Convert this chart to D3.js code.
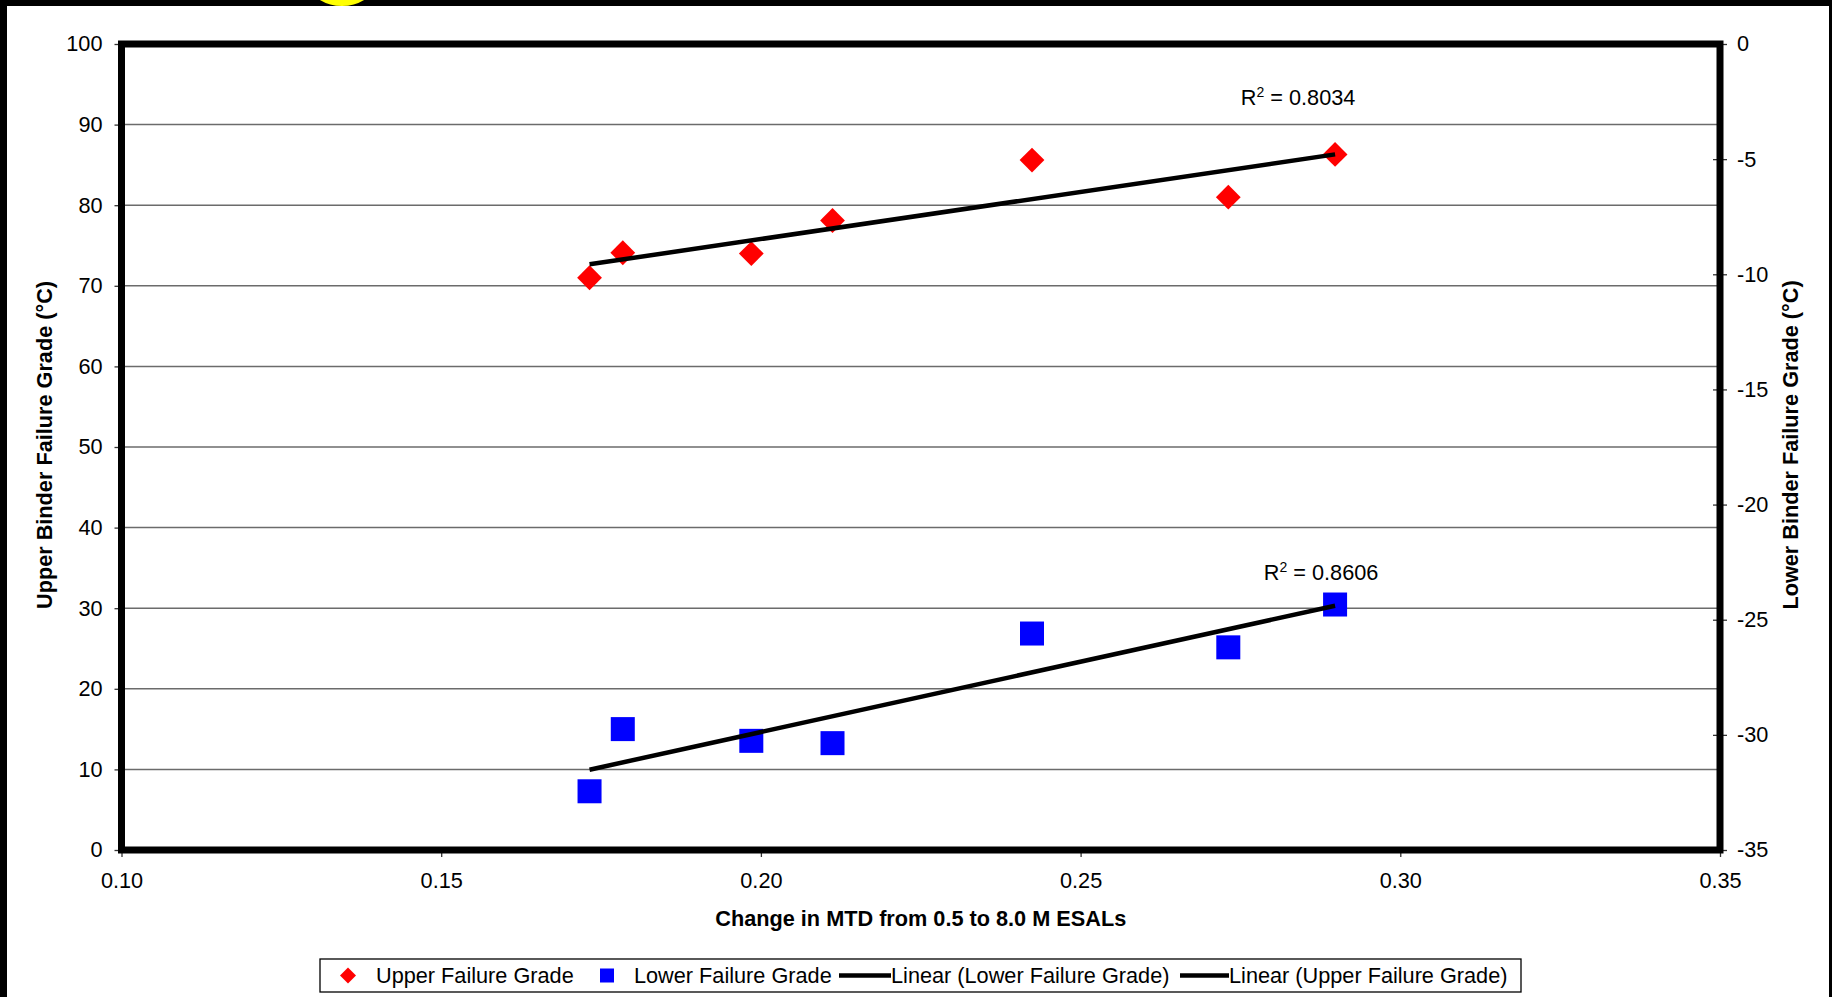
<!DOCTYPE html>
<html>
<head>
<meta charset="utf-8">
<script src="https://cdn.jsdelivr.net/npm/d3@7"></script>
<style>
  html, body { margin: 0; padding: 0; background: #fff; }
  svg { display: block; font-family: "Liberation Sans", Arial, sans-serif; }
</style>
</head>
<body>
<svg id="chart" width="1832" height="997"></svg>
<script>
// Change in mean texture depth (MTD) between 0.5 and 8.0 M ESALs for each section
const mtdChange = [0.1732, 0.1784, 0.1985, 0.2112, 0.2424, 0.2731, 0.2898];
// Upper binder failure grade, °C (left axis)
const upperGrade = [71.0, 74.1, 74.0, 78.1, 85.6, 81.0, 86.3];
// Lower binder failure grade, °C (right axis)
const lowerGrade = [-32.45, -29.75, -30.26, -30.36, -25.6, -26.2, -24.34];

const xTicks = [0.10, 0.15, 0.20, 0.25, 0.30, 0.35];
const leftTicks = [0, 10, 20, 30, 40, 50, 60, 70, 80, 90, 100];
const rightTicks = [-35, -30, -25, -20, -15, -10, -5, 0];

const rSquaredUpper = "0.8034";
const rSquaredLower = "0.8606";

const xTitle = "Change in MTD from 0.5 to 8.0 M ESALs";
const leftTitle = "Upper Binder Failure Grade (°C)";
const rightTitle = "Lower Binder Failure Grade (°C)";
const legendLabels = ["Upper Failure Grade", "Lower Failure Grade",
                      "Linear (Lower Failure Grade)", "Linear (Upper Failure Grade)"];

const svg = d3.select("#chart");
const FONT = 21.7;
const intFmt = d => String(d);   // plain hyphen-minus for negative ticks

// page background and dark frame
svg.append("rect").attr("width", 1832).attr("height", 997).attr("fill", "#fff");
svg.append("rect").attr("x", 0).attr("y", 0).attr("width", 1832).attr("height", 6).attr("fill", "#000");
svg.append("rect").attr("x", 0).attr("y", 0).attr("width", 7).attr("height", 997).attr("fill", "#000");
svg.append("rect").attr("x", 1829).attr("y", 0).attr("width", 3).attr("height", 997).attr("fill", "#000");
// yellow ring peeking in at the top edge
svg.append("defs").append("clipPath").attr("id", "topClip")
  .append("rect").attr("x", 0).attr("y", 0).attr("width", 1832).attr("height", 20);
svg.append("circle").attr("clip-path", "url(#topClip)")
  .attr("cx", 342).attr("cy", -37).attr("r", 39)
  .attr("fill", "none").attr("stroke", "#ffff00").attr("stroke-width", 8);

// scales
const x = d3.scaleLinear().domain([0.10, 0.35]).range([121.5, 1720]);
const yL = d3.scaleLinear().domain([0, 100]).range([850, 44]);
const yR = d3.scaleLinear().domain([-35, 0]).range([850, 44]);

// horizontal gridlines
svg.append("g").selectAll("line").data(leftTicks.filter(d => d > 0 && d < 100)).join("line")
  .attr("x1", x.range()[0]).attr("x2", x.range()[1])
  .attr("y1", d => yL(d)).attr("y2", d => yL(d))
  .attr("stroke", "#6b6b6b").attr("stroke-width", 1.5);

// axes
function styleAxis(g) {
  g.select(".domain").remove();
  g.selectAll(".tick line").attr("stroke", "#333").attr("stroke-width", 1.3);
  g.selectAll(".tick text").attr("font-size", FONT).attr("fill", "#000")
    .attr("font-family", "Liberation Sans, Arial, sans-serif");
}

svg.append("g").attr("transform", `translate(${x.range()[0]},0)`)
  .call(d3.axisLeft(yL).tickValues(leftTicks).tickFormat(intFmt).tickSize(7).tickPadding(12))
  .call(styleAxis);

svg.append("g").attr("transform", `translate(${x.range()[1]},0)`)
  .call(d3.axisRight(yR).tickValues(rightTicks).tickFormat(intFmt).tickSize(7).tickPadding(10))
  .call(styleAxis)
  .call(g => g.selectAll(".tick line").attr("x1", -7));

svg.append("g").attr("transform", `translate(0,${yL(0)})`)
  .call(d3.axisBottom(x).tickValues(xTicks).tickFormat(d3.format(".2f")).tickSize(7).tickPadding(16))
  .call(styleAxis);

// plot-area border
svg.append("rect")
  .attr("x", x.range()[0]).attr("y", yL(100))
  .attr("width", x.range()[1] - x.range()[0]).attr("height", yL(0) - yL(100))
  .attr("fill", "none").attr("stroke", "#000").attr("stroke-width", 7);

// axis titles
svg.append("text").attr("x", (x.range()[0] + x.range()[1]) / 2).attr("y", 926)
  .attr("text-anchor", "middle").attr("font-size", FONT).attr("font-weight", "bold").text(xTitle);
svg.append("text").attr("transform", "translate(44.5,445) rotate(-90)").attr("dy", "0.35em")
  .attr("text-anchor", "middle").attr("font-size", FONT).attr("font-weight", "bold").text(leftTitle);
svg.append("text").attr("transform", "translate(1790,445) rotate(-90)").attr("dy", "0.35em")
  .attr("text-anchor", "middle").attr("font-size", FONT).attr("font-weight", "bold").text(rightTitle);

// markers
const diamond = s => `M0,${-s}L${s},0L0,${s}L${-s},0Z`;
const pts = mtdChange.map((m, i) => ({ m, up: upperGrade[i], lo: lowerGrade[i] }));

svg.append("g").selectAll("rect").data(pts).join("rect")
  .attr("x", d => x(d.m) - 12).attr("y", d => yR(d.lo) - 12)
  .attr("width", 24).attr("height", 24).attr("fill", "#0000ff");

svg.append("g").selectAll("path").data(pts).join("path")
  .attr("transform", d => `translate(${x(d.m)},${yL(d.up)})`)
  .attr("d", diamond(12.4)).attr("fill", "#ff0000");

// least-squares trendlines
function linFit(xs, ys) {
  const mx = d3.mean(xs), my = d3.mean(ys);
  let sxy = 0, sxx = 0;
  xs.forEach((v, i) => { sxy += (v - mx) * (ys[i] - my); sxx += (v - mx) * (v - mx); });
  const slope = sxy / sxx;
  return v => my + slope * (v - mx);
}
const xMin = d3.min(mtdChange), xMax = d3.max(mtdChange);
const fitUp = linFit(mtdChange, upperGrade);
const fitLo = linFit(mtdChange, lowerGrade);
const line = d3.line().x(d => d[0]).y(d => d[1]);

svg.append("path")
  .attr("d", line([[x(xMin), yR(fitLo(xMin))], [x(xMax), yR(fitLo(xMax))]]))
  .attr("stroke", "#000").attr("stroke-width", 4.5).attr("fill", "none");
svg.append("path")
  .attr("d", line([[x(xMin), yL(fitUp(xMin))], [x(xMax), yL(fitUp(xMax))]]))
  .attr("stroke", "#000").attr("stroke-width", 4.5).attr("fill", "none");

// R² labels near the right end of each trendline
function rLabel(cx, by, val) {
  const t = svg.append("text").attr("x", cx).attr("y", by)
    .attr("text-anchor", "middle").attr("font-size", FONT).attr("fill", "#000");
  t.append("tspan").text("R");
  t.append("tspan").attr("font-size", 14).attr("dy", -8).text("2");
  t.append("tspan").attr("dy", 8).text(" = " + val);
}
rLabel(x(xMax) - 37, yL(fitUp(xMax)) - 49, rSquaredUpper);
rLabel(x(xMax) - 14, yR(fitLo(xMax)) - 26, rSquaredLower);

// legend
const lg = svg.append("g");
lg.append("rect").attr("x", 320).attr("y", 959).attr("width", 1201).attr("height", 33)
  .attr("fill", "#fff").attr("stroke", "#000").attr("stroke-width", 1.3);
const ly = 975.5;
lg.append("path").attr("transform", `translate(348,${ly})`).attr("d", diamond(8)).attr("fill", "#ff0000");
lg.append("rect").attr("x", 600).attr("y", ly - 7).attr("width", 14).attr("height", 14).attr("fill", "#0000ff");
lg.append("line").attr("x1", 839).attr("x2", 891).attr("y1", ly).attr("y2", ly)
  .attr("stroke", "#000").attr("stroke-width", 4.5);
lg.append("line").attr("x1", 1180).attr("x2", 1229).attr("y1", ly).attr("y2", ly)
  .attr("stroke", "#000").attr("stroke-width", 4.5);
const lx = [376, 634, 891, 1229];
lg.selectAll("text.lab").data(legendLabels).join("text").attr("class", "lab")
  .attr("x", (d, i) => lx[i]).attr("y", ly).attr("dy", "0.35em")
  .attr("font-size", FONT).attr("fill", "#000").text(d => d);
</script>
</body>
</html>
